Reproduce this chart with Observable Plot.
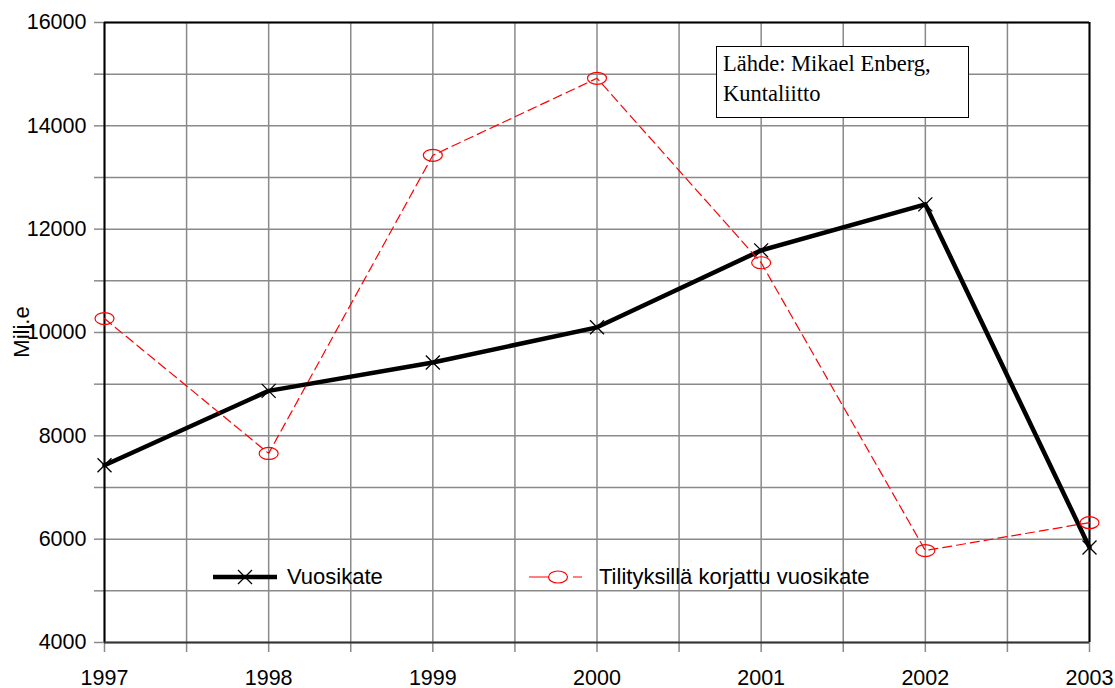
<!DOCTYPE html>
<html>
<head>
<meta charset="utf-8">
<script src="https://cdn.jsdelivr.net/npm/d3@7"></script>
<script src="https://cdn.jsdelivr.net/npm/@observablehq/plot@0.6"></script>
<style>
  body { margin: 0; background: #fff; }
  #wrap { position: relative; width: 1115px; height: 688px; font-family: "Liberation Sans", Arial, sans-serif; }
  #wrap svg { display: block; }
  .src { position: absolute; left: 716px; top: 46px; width: 253px; height: 72px; border: 1.5px solid #000; background: #fff;
         font-family: "Liberation Serif", "Times New Roman", serif; font-size: 22.5px; line-height: 30px; padding: 2px 0 0 6px; box-sizing: border-box; color: #000; }
  .leg { position: absolute; display: flex; align-items: center; font-size: 22px; color: #000; height: 24px; }
  .leg svg { margin-right: 10px; }
  .ylab { position: absolute; left: 22px; top: 332px; transform: translate(-50%, -50%) rotate(-90deg); font-size: 22px; color: #000; white-space: nowrap; }
</style>
</head>
<body>
<div id="wrap"></div>
<script>
// ---- data ----
const years = [1997, 1998, 1999, 2000, 2001, 2002, 2003];
const vuosikate = [7430, 8870, 9420, 10100, 11590, 12480, 5840];
const korjattu = [10270, 7660, 13430, 14920, 11350, 5780, 6320];
const seriesNames = ["Vuosikate", "Tilityksillä korjattu vuosikate"];
const yTicks = d3.range(4000, 16001, 1000);
const xTicks = d3.range(1997, 2003.001, 0.5);
const yLabel = "Milj.e";
const sourceLines = ["Lähde: Mikael Enberg,", "Kuntaliitto"];

const dataA = years.map((y, i) => ({year: y, value: vuosikate[i]}));
const dataB = years.map((y, i) => ({year: y, value: korjattu[i]}));

// ellipse symbol for red markers
const ellipse = {
  draw(ctx) {
    const rx = 9.5, ry = 6, k = 0.5523;
    ctx.moveTo(rx, 0);
    ctx.bezierCurveTo(rx, ry * k, rx * k, ry, 0, ry);
    ctx.bezierCurveTo(-rx * k, ry, -rx, ry * k, -rx, 0);
    ctx.bezierCurveTo(-rx, -ry * k, -rx * k, -ry, 0, -ry);
    ctx.bezierCurveTo(rx * k, -ry, rx, -ry * k, rx, 0);
    ctx.closePath();
  }
};
const cross = {
  draw(ctx) {
    const r = 7;
    ctx.moveTo(-r, -r); ctx.lineTo(r, r);
    ctx.moveTo(-r, r); ctx.lineTo(r, -r);
  }
};

const grid = "#8a8a8a";

const chart = Plot.plot({
  width: 1115,
  height: 688,
  marginLeft: 104,
  marginRight: 26,
  marginTop: 22,
  marginBottom: 46,
  style: {fontFamily: "'Liberation Sans', Arial, sans-serif", fontSize: "21px", color: "#000", background: "#fff", overflow: "visible"},
  x: {domain: [1997, 2003]},
  y: {domain: [4000, 16000]},
  marks: [
    Plot.gridX(xTicks, {stroke: grid, strokeOpacity: 1, strokeWidth: 1.5}),
    Plot.gridY(yTicks, {stroke: grid, strokeOpacity: 1, strokeWidth: 1.5}),
    Plot.axisX(xTicks, {tickSize: 10, tickPadding: 17, stroke: grid, strokeWidth: 1.5, strokeOpacity: 1,
      tickFormat: d => Number.isInteger(d) ? String(d) : "", label: null, fontSize: 21.5}),
    Plot.axisY(yTicks, {tickSize: 10, tickPadding: 8, stroke: grid, strokeWidth: 1.5, strokeOpacity: 1,
      tickFormat: d => d % 2000 === 0 ? String(d) : "", label: null, fontSize: 21.5}),
    Plot.ruleX([1997, 2003], {stroke: "#000", strokeWidth: 2}),
    Plot.ruleY([16000], {stroke: "#000", strokeWidth: 2}),
    Plot.ruleY([4000], {stroke: "#333", strokeWidth: 2}),
    Plot.line(dataA, {x: "year", y: "value", stroke: "#000", strokeWidth: 4.5}),
    Plot.dot(dataA, {x: "year", y: "value", symbol: cross, stroke: "#000", strokeWidth: 1.3, fill: "none"}),
    Plot.line(dataB, {x: "year", y: "value", stroke: "#ff0000", strokeWidth: 1.2, strokeDasharray: "9,5"}),
    Plot.dot(dataB, {x: "year", y: "value", symbol: ellipse, stroke: "#ff0000", strokeWidth: 1.2, fill: "none"})
  ]
});

const wrap = document.getElementById("wrap");
wrap.appendChild(chart);

// y axis label
const yl = document.createElement("div");
yl.className = "ylab";
yl.textContent = yLabel;
wrap.appendChild(yl);

// source box
const src = document.createElement("div");
src.className = "src";
src.innerHTML = sourceLines.join("<br>");
wrap.appendChild(src);

// legend (inside plot area)
function legendItem(left, label, symbolSvg) {
  const d = document.createElement("div");
  d.className = "leg";
  d.style.left = left + "px";
  d.style.top = "565px";
  d.innerHTML = symbolSvg + "<span>" + label + "</span>";
  wrap.appendChild(d);
}
legendItem(213, seriesNames[0],
  '<svg width="64" height="24"><line x1="0" y1="12" x2="64" y2="12" stroke="#000" stroke-width="4.5"/>' +
  '<path d="M25,5L39,19M25,19L39,5" stroke="#000" stroke-width="1.3"/></svg>');
legendItem(529, seriesNames[1],
  '<svg width="60" height="24"><line x1="0" y1="12" x2="53" y2="12" stroke="#ff0000" stroke-width="1.2" stroke-dasharray="20,24,9"/>' +
  '<ellipse cx="29" cy="12" rx="9.5" ry="6" fill="#fff" stroke="#ff0000" stroke-width="1.2"/></svg>');
</script>
</body>
</html>
